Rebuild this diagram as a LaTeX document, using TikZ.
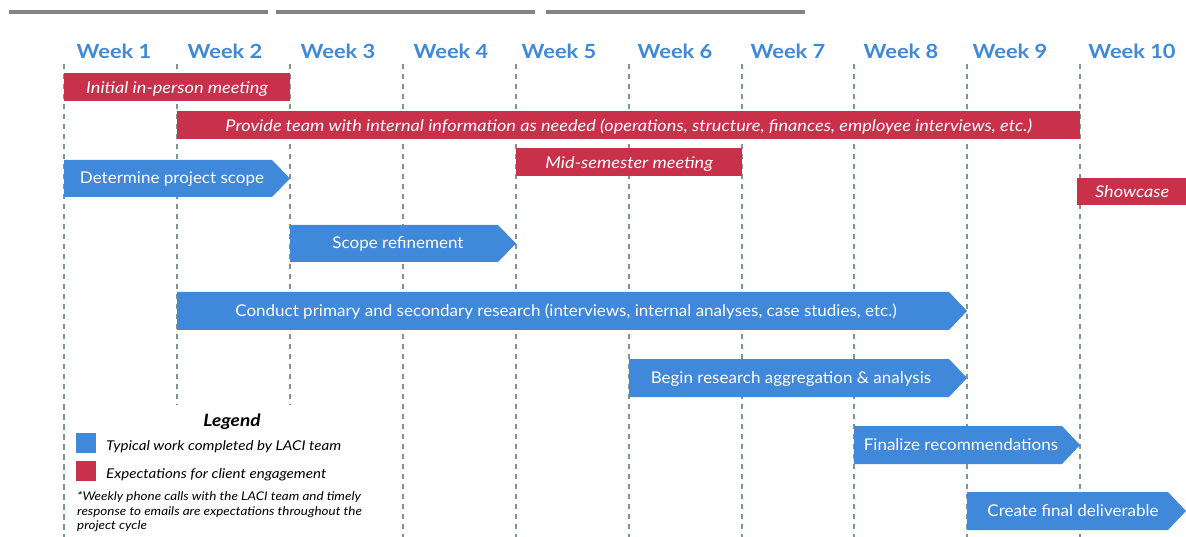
\documentclass[tikz,border=0pt]{standalone}
\usepackage{fontspec}
\setmainfont{Lato}[FakeStretch=1.12]
\newfontfamily\barfont{Lato}[FakeStretch=1.05]
\definecolor{bluec}{HTML}{3F88DA}
\definecolor{redc}{HTML}{C9304A}
\definecolor{weekc}{HTML}{3F88DA}
\definecolor{gridc}{HTML}{7D978C}
\definecolor{greyc}{HTML}{838383}
\begin{document}
\begin{tikzpicture}[x=1pt,y=-1pt,
  gridline/.style={draw=gridc, line width=1.1pt, dash pattern=on 5pt off 5pt},
  topbar/.style={draw=greyc, line width=4pt},
  week/.style={text=weekc, font=\bfseries\fontsize{19.5}{23}\selectfont, inner sep=0pt},
  redbar/.style={fill=redc, draw=none, inner sep=0pt, anchor=north west, text=white,
     font=\itshape\fontsize{16.2}{19}\selectfont, text height=12.6pt, text depth=0pt},
  bluefill/.style={fill=bluec, draw=none},
  bartext/.style={text=white, font=\barfont\fontsize{16.2}{19}\selectfont, inner sep=0pt,
     text height=11pt, text depth=0pt},
  legtext/.style={font=\itshape\fontsize{13.5}{16}\selectfont, anchor=west, inner sep=0pt},
  notetext/.style={font=\itshape\fontsize{12}{14.8}\selectfont, anchor=north west, inner sep=0pt, align=left},
  swatch/.style={draw=none, minimum width=20pt, minimum height=20pt, inner sep=0pt, anchor=north west}
]
\useasboundingbox (0,0) rectangle (1186,537);
\fill[white] (0,0) rectangle (1186,537);
% top grey bars
\draw[topbar] (9,12) -- (268,12);
\draw[topbar] (276,12) -- (535,12);
\draw[topbar] (546,12) -- (805,12);
% week labels
\node[week] (w1) at (114,51) {Week 1};
\node[week] (w2) at (225,51) {Week 2};
\node[week] (w3) at (338,51) {Week 3};
\node[week] (w4) at (451,51) {Week 4};
\node[week] (w5) at (559,51) {Week 5};
\node[week] (w6) at (675,51) {Week 6};
\node[week] (w7) at (788,51) {Week 7};
\node[week] (w8) at (901,51) {Week 8};
\node[week] (w9) at (1010,51) {Week 9};
\node[week] (w10) at (1132,51) {Week 10};
% grid lines
\draw[gridline] (64,64) -- (64,537);
\draw[gridline] (177,64) -- (177,405);
\draw[gridline] (290,64) -- (290,405);
\foreach \x in {403,516,629,742,854,967,1080}
  \draw[gridline] (\x,64) -- (\x,537);
% red bars
\node[redbar, minimum width=226pt, minimum height=28pt] (initial) at (64,73) {Initial in-person meeting};
\node[redbar, minimum width=903pt, minimum height=28pt] (provide) at (177,111) {Provide team with internal information as needed (operations, structure, finances, employee interviews, etc.)};
\node[redbar, minimum width=226pt, minimum height=28pt] (mid) at (516,148) {Mid-semester meeting};
\node[redbar, minimum width=110pt, minimum height=27pt] (showcase) at (1077,178) {Showcase};
% blue arrows
\fill[bluefill] (64,160) -- (272,160) -- (290,178.5) -- (272,197) -- (64,197) -- cycle;
\node[bartext] (scope) at (172,178.5) {Determine project scope};
\fill[bluefill] (290,225) -- (498,225) -- (516,243.5) -- (498,262) -- (290,262) -- cycle;
\node[bartext] (refine) at (398,243.5) {Scope refinement};
\fill[bluefill] (177,292) -- (949,292) -- (967,311) -- (949,330) -- (177,330) -- cycle;
\node[bartext] (research) at (566,311) {Conduct primary and secondary research (interviews, internal analyses, case studies, etc.)};
\fill[bluefill] (629,359) -- (949,359) -- (967,378) -- (949,397) -- (629,397) -- cycle;
\node[bartext] (aggregate) at (791,378) {Begin research aggregation \& analysis};
\fill[bluefill] (854,426) -- (1062,426) -- (1080,445) -- (1062,464) -- (854,464) -- cycle;
\node[bartext] (finalize) at (961,445) {Finalize recommendations};
\fill[bluefill] (967,492) -- (1168,492) -- (1186,511) -- (1168,530) -- (967,530) -- cycle;
\node[bartext] (deliver) at (1073,511) {Create final deliverable};
% legend
\fill[white] (70,405) rectangle (398,537);
\draw[gridline] (64,405) -- (64,537);
\node[font=\bfseries\itshape\fontsize{17}{20}\selectfont, inner sep=0pt] (legend) at (232,422) {Legend};
\node[swatch, fill=bluec] (sblue) at (76,433) {};
\node[swatch, fill=redc] (sred) at (76,461) {};
\node[legtext] (lblue) at (106,447) {Typical work completed by LACI team};
\node[legtext] (lred) at (106,475) {Expectations for client engagement};
\node[notetext] (note) at (77,491) {*Weekly phone calls with the LACI team and timely\\response to emails are expectations throughout the\\project cycle};
\end{tikzpicture}
\end{document}
